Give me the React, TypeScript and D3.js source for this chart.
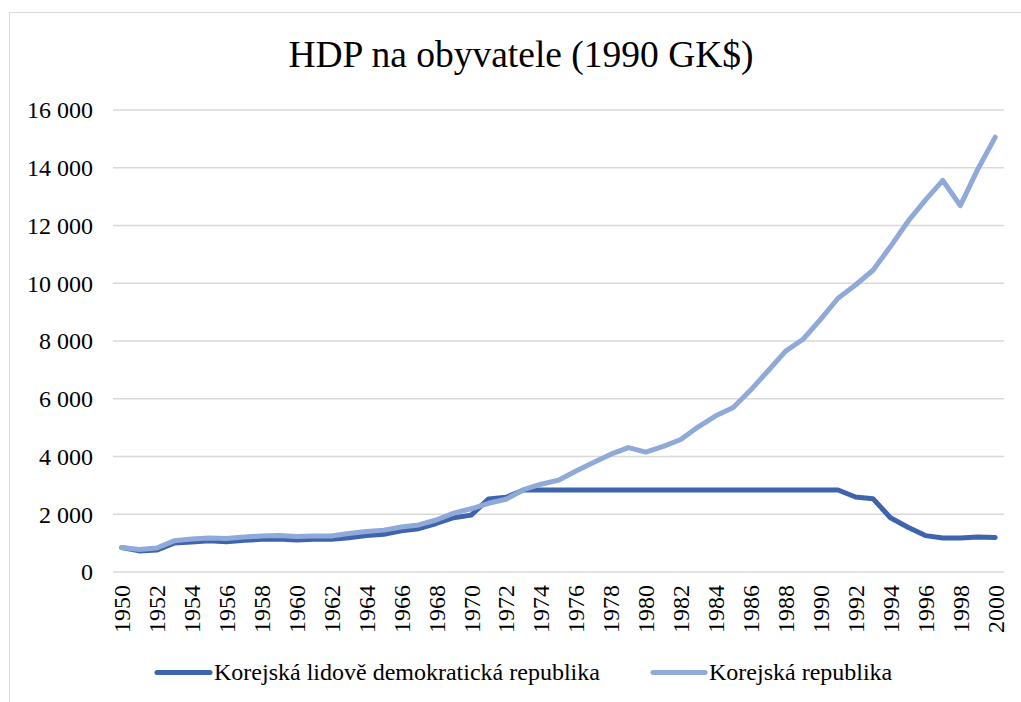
import React from "react";
import * as d3 from "d3";

const years: number[] = [
  1950, 1951, 1952, 1953, 1954, 1955, 1956, 1957, 1958, 1959,
  1960, 1961, 1962, 1963, 1964, 1965, 1966, 1967, 1968, 1969,
  1970, 1971, 1972, 1973, 1974, 1975, 1976, 1977, 1978, 1979,
  1980, 1981, 1982, 1983, 1984, 1985, 1986, 1987, 1988, 1989,
  1990, 1991, 1992, 1993, 1994, 1995, 1996, 1997, 1998, 1999, 2000,
];

const northKorea: number[] = [
  850, 730, 760, 1000, 1040, 1080, 1050, 1100, 1130, 1140,
  1110, 1130, 1130, 1190, 1260, 1310, 1430, 1500, 1680, 1880,
  1970, 2530, 2590, 2841, 2841, 2841, 2841, 2841, 2841, 2841,
  2841, 2841, 2841, 2841, 2841, 2841, 2841, 2841, 2841, 2841,
  2841, 2841, 2597, 2540, 1880, 1550, 1260, 1180, 1180, 1210, 1195,
];

const southKorea: number[] = [
  850, 780, 830, 1080, 1140, 1180, 1160, 1210, 1250, 1260,
  1230, 1250, 1250, 1330, 1400, 1450, 1560, 1630, 1800, 2040,
  2190, 2380, 2520, 2850, 3040, 3180, 3500, 3790, 4080, 4310,
  4150, 4350, 4590, 5030, 5410, 5700, 6300, 6970, 7650, 8060,
  8750, 9480, 9940, 10450, 11270, 12140, 12880, 13560, 12690, 13950, 15060,
];

const yTicks: number[] = [0, 2000, 4000, 6000, 8000, 10000, 12000, 14000, 16000];
const xTickYears: number[] = years.filter((y) => (y - 1950) % 2 === 0);

const title = "HDP na obyvatele (1990 GK$)";
const seriesNames: string[] = ["Korejská lidově demokratická republika", "Korejská republika"];
const seriesColors: string[] = ["#3D64AD", "#8FA9D8"];

const locale = d3.formatLocale({ decimal: ",", thousands: " ", grouping: [3], currency: ["", " Kč"] });
const fmt = locale.format(",d");

export default function App() {
  const width = 1021;
  const height = 702;
  const font = "'Liberation Serif', 'Times New Roman', serif";

  const x = d3.scalePoint<number>().domain(years).range([113, 1004]).padding(0.5);
  const y = d3.scaleLinear().domain([0, 16000]).range([572, 110]);

  const line = d3
    .line<number>()
    .x((_, i) => x(years[i]) as number)
    .y((d) => y(d))
    .curve(d3.curveLinear);

  const series = [northKorea, southKorea];

  const legendItems = [
    { x1: 157, x2: 210, tx: 214 },
    { x1: 653, x2: 705, tx: 709 },
  ];

  return (
    <svg
      width={width}
      height={height}
      style={{ position: "absolute", left: 0, top: 0, background: "#fff" }}
      fontFamily={font}
    >
      <rect x={0} y={0} width={width} height={height} fill="#fff" />
      <rect x={9.5} y={12.5} width={1040} height={720} fill="none" stroke="#d9d9d9" strokeWidth={1} />
      <text x={521} y={67} textAnchor="middle" fontSize={37.5} fill="#000">
        {title}
      </text>
      {yTicks.map((t) => (
        <g key={t}>
          <line x1={113} x2={1004} y1={y(t)} y2={y(t)} stroke="#d9d9d9" strokeWidth={1.5} />
          <text x={93} y={y(t)} dy="0.35em" textAnchor="end" fontSize={24} fill="#000">
            {fmt(t)}
          </text>
        </g>
      ))}
      {xTickYears.map((yr) => (
        <text
          key={yr}
          transform={`translate(${x(yr)},${585}) rotate(-90)`}
          dy="0.35em"
          textAnchor="end"
          fontSize={24}
          fill="#000"
        >
          {yr}
        </text>
      ))}
      {series.map((s, i) => (
        <path
          key={i}
          d={line(s) || ""}
          fill="none"
          stroke={seriesColors[i]}
          strokeWidth={5}
          strokeLinejoin="round"
          strokeLinecap="round"
        />
      ))}
      {legendItems.map((it, i) => (
        <g key={i}>
          <line x1={it.x1} x2={it.x2} y1={672.5} y2={672.5} stroke={seriesColors[i]} strokeWidth={5} strokeLinecap="round" />
          <text x={it.tx} y={680} fontSize={24} fill="#000">
            {seriesNames[i]}
          </text>
        </g>
      ))}
    </svg>
  );
}
